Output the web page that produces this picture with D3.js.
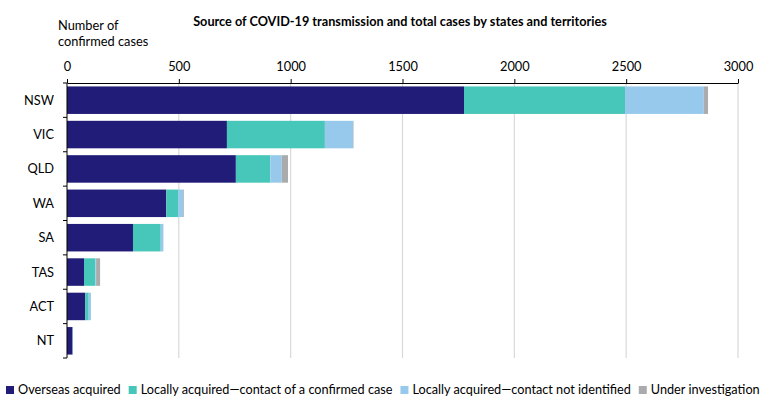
<!DOCTYPE html>
<html>
<head>
<meta charset="utf-8">
<script src="https://cdn.jsdelivr.net/npm/d3@7"></script>
<style>
  body { margin: 0; background: #fff; }
  text { font-family: Lato, "Open Sans", sans-serif; fill: #000; }
</style>
</head>
<body>
<script>
// data
var states = ["NSW", "VIC", "QLD", "WA", "SA", "TAS", "ACT", "NT"];
var overseas      = [1775, 715, 755, 444, 295, 76, 82, 25];
var localContact  = [ 720, 438, 154,  54, 124, 51, 15,  0];
var localUnknown  = [ 352, 126,  51,  22,  12,  3, 10,  2];
var underInvest   = [  19,   2,  28,   3,   0, 18,  0,  0];
var seriesNames = ["Overseas acquired", "Locally acquired\u2014contact of a confirmed case",
                   "Locally acquired\u2014contact not identified", "Under investigation"];
var seriesColors = ["#211c77", "#47c7b9", "#97c9ec", "#a9abad"];
var xTicks = [0, 500, 1000, 1500, 2000, 2500, 3000];

var width = 760, height = 417;
var mLeft = 67, mRight = 738, mTop = 83, mBottom = 358;

var svg = d3.select("body").append("svg")
    .attr("width", width)
    .attr("height", height);

var rows = states.map(function(s, i){
    return {state: s, overseas: overseas[i], localContact: localContact[i],
            localUnknown: localUnknown[i], underInvest: underInvest[i]};
});
var keys = ["overseas", "localContact", "localUnknown", "underInvest"];
var stacked = d3.stack().keys(keys)(rows);

var x = d3.scaleLinear().domain([0, 3000]).range([mLeft, mRight]);
var y = d3.scaleBand().domain(states).range([mTop, mBottom])
    .paddingInner(0.2).paddingOuter(0.1);

//title
svg.append("text")
    .attr("x", 400).attr("y", 26)
    .attr("text-anchor", "middle")
    .style("font-size", "12.7px").style("font-weight", "bold")
    .text("Source of COVID-19 transmission and total cases by states and territories");

//axis title
svg.append("text").attr("x", 58).attr("y", 30).style("font-size", "12.8px").text("Number of");
svg.append("text").attr("x", 58).attr("y", 46).style("font-size", "12.8px").text("confirmed cases");

//gridlines
svg.append("g").selectAll("line")
    .data(xTicks.slice(1))
    .join("line")
    .attr("x1", function(d){ return x(d); }).attr("x2", function(d){ return x(d); })
    .attr("y1", mTop).attr("y2", mBottom)
    .attr("stroke", "#d9d9d9").attr("stroke-width", 1.2);

//bars
svg.append("g").selectAll("g")
    .data(stacked)
    .join("g")
    .attr("fill", function(d, i){ return seriesColors[i]; })
    .selectAll("rect")
    .data(function(d){ return d; })
    .join("rect")
    .attr("x", function(d){ return x(d[0]); })
    .attr("y", function(d){ return y(d.data.state); })
    .attr("width", function(d){ return x(d[1]) - x(d[0]); })
    .attr("height", y.bandwidth());

//top axis
var xAxis = d3.axisTop(x).tickValues(xTicks).tickFormat(d3.format("d"))
    .tickSize(4).tickPadding(8).tickSizeOuter(0);
var gx = svg.append("g")
    .attr("transform", "translate(0," + mTop + ")")
    .call(xAxis);
gx.select(".domain").attr("stroke", "#000");
gx.selectAll(".tick line").attr("stroke", "#000");
gx.selectAll(".tick text").style("font-size", "12.8px").attr("font-family", null);

//left axis: line, ticks at band boundaries, labels
var step = y.step();
var bounds = states.map(function(s){ return y(s) - y.paddingInner() * step / 2; });
bounds[0] = mTop;
bounds.push(mBottom);
svg.append("line")
    .attr("x1", mLeft).attr("x2", mLeft).attr("y1", mTop).attr("y2", mBottom)
    .attr("stroke", "#000");
svg.append("g").selectAll("line")
    .data(bounds)
    .join("line")
    .attr("x1", mLeft - 4).attr("x2", mLeft)
    .attr("y1", function(d){ return d; }).attr("y2", function(d){ return d; })
    .attr("stroke", "#000");
svg.append("g").selectAll("text")
    .data(states)
    .join("text")
    .attr("x", 54)
    .attr("y", function(d){ return y(d) + y.bandwidth() / 2; })
    .attr("dy", "0.35em")
    .attr("text-anchor", "end")
    .style("font-size", "12.8px")
    .text(function(d){ return d; });

//legend
var legend = svg.append("g");
var lx = 6;
seriesNames.forEach(function(name, i){
    legend.append("rect")
        .attr("x", lx).attr("y", 386)
        .attr("width", 8).attr("height", 8)
        .attr("fill", seriesColors[i]);
    var t = legend.append("text")
        .attr("x", lx + 12).attr("y", 394)
        .style("font-size", "12.7px")
        .text(name);
    lx += 12 + t.node().getComputedTextLength() + 8;
});
</script>
</body>
</html>
